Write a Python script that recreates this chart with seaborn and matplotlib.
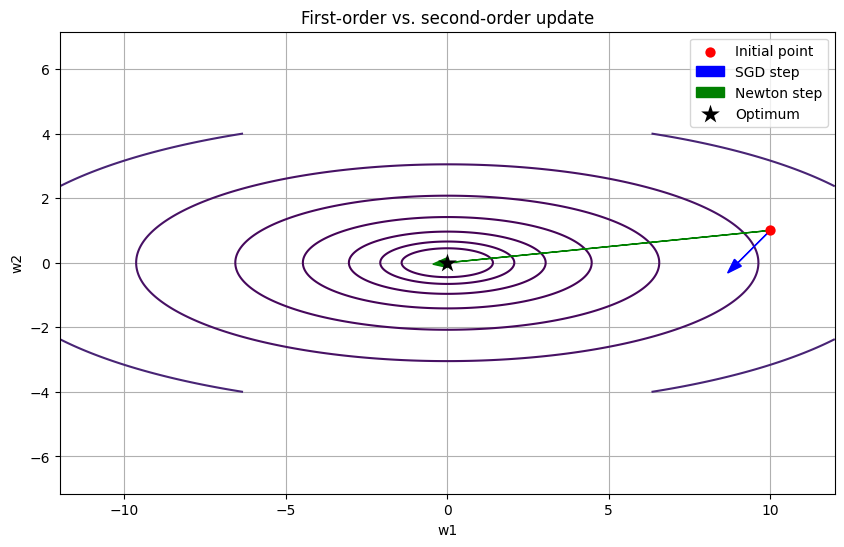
import numpy as np
import matplotlib
matplotlib.use("Agg")
import matplotlib.pyplot as plt
import seaborn as sns

# quadratic loss f(w) = 0.5 * w^T H w, with H diagonal
h_diag = [1.0, 10.0]
w1_range = [-12, 12]
w2_range = [-4, 4]
levels = np.logspace(0, 3, 10)

w_init = [10.0, 1.0]
w_opt = [0.0, 0.0]
lr = 0.1

w1 = np.linspace(w1_range[0], w1_range[1], 400)
w2 = np.linspace(w2_range[0], w2_range[1], 400)
W1, W2 = np.meshgrid(w1, w2)
Z = 0.5 * (h_diag[0] * W1**2 + h_diag[1] * W2**2)

grad = np.array([h_diag[0] * w_init[0], h_diag[1] * w_init[1]])
sgd_step = -lr * grad
newton_step = -grad / np.array(h_diag)

fig, ax = plt.subplots(figsize=(10, 6))
ax.contour(W1, W2, Z, levels=levels, cmap="viridis")

sns.scatterplot(x=[w_init[0]], y=[w_init[1]], color="red", s=55, linewidth=0,
                label="Initial point", zorder=4, ax=ax)
ax.arrow(w_init[0], w_init[1], sgd_step[0], sgd_step[1], head_width=0.3,
         color="blue", label="SGD step", zorder=3)
ax.arrow(w_init[0], w_init[1], newton_step[0], newton_step[1], head_width=0.3,
         color="green", label="Newton step", zorder=3)
sns.scatterplot(x=[w_opt[0]], y=[w_opt[1]], color="black", marker="*", s=200,
                linewidth=0, label="Optimum", zorder=4, ax=ax)

ax.set_title("First-order vs. second-order update")
ax.set_xlabel("w1")
ax.set_ylabel("w2")
ax.legend(loc="upper right")
ax.grid(True)
ax.axis("equal")

plt.savefig("out.png", dpi=100, bbox_inches="tight")
